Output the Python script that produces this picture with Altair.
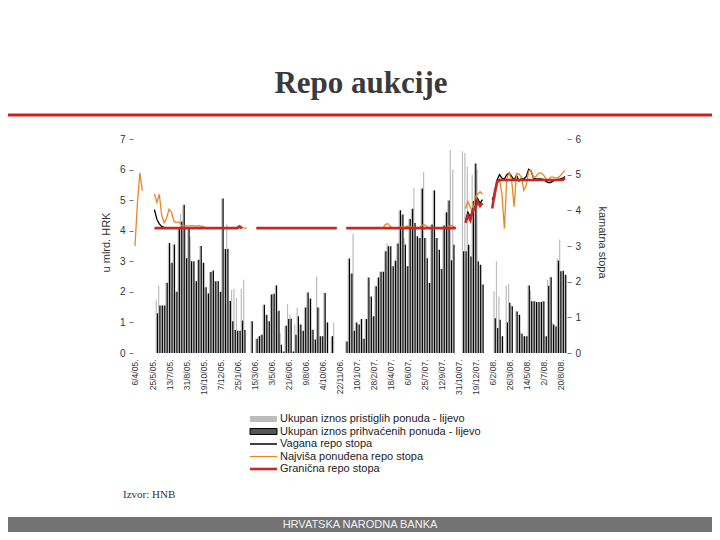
import altair as alt
import pandas as pd

# ---------------- data ----------------
title_text = "Repo aukcije"
source_text = "Izvor: HNB"
footer_text = "HRVATSKA NARODNA BANKA"
left_title = "u mlrd. HRK"
right_title = "kamatna stopa"

xlabels = ["6/4/05.", "25/5/05.", "13/7/05.", "31/8/05.", "19/10/05.", "7/12/05.",
           "25/1/06.", "15/3/06.", "3/5/06.", "21/6/06.", "9/8/06.", "4/10/06.",
           "22/11/06.", "10/1/07.", "28/2/07.", "18/4/07.", "6/6/07.", "25/7/07.",
           "12/9/07.", "31/10/07.", "19/12/07.", "6/2/08.", "26/3/08.", "14/5/08.",
           "2/7/08.", "20/8/08."]

legend_labels = ["Ukupan iznos pristiglih ponuda - lijevo",
                 "Ukupan iznos prihvaćenih ponuda - lijevo",
                 "Vagana repo stopa",
                 "Najviša ponuđena repo stopa",
                 "Granična repo stopa"]

# auction index (weekly auctions), labels every 7th auction
idx = list(range(178))
tick_pos = [7 * k for k in range(len(xlabels))]

# total bids received (bn HRK, left axis)
received = [
    None, None, None, None, None, None, None, None, None, 1.75,
    2.2, 1.55, 1.55, 2.3, 3.6, 2.95, 3.55, 2.0, 4.1, 4.55,
    4.85, 4.1, 4.1, 3.8, 3.0, 2.35, 3.05, 3.5, 2.95, 2.15,
    1.95, 2.65, 2.7, 2.35, 2.35, 2.0, 5.05, 3.4, 4.2, 1.7,
    2.07, 2.1, 1.8, 0.73, 2.1, 2.4, None, None, 1.04, None,
    0.47, 0.55, 0.6, 1.58, 1.25, 1.04, 1.91, 1.94, 2.21, 1.38,
    0.65, 0.05, 0.89, 1.6, 1.25, 0.05, 0.93, 1.49, 0.93, 0.73,
    1.49, 1.98, 1.78, 0.76, 0.44, 2.5, 1.49, 0.55, 1.96, 1.0,
    None, 0.55, 1.0, None, None, None, None, 0.38, 3.09, 2.6,
    3.9, 1.0, 0.93, 1.11, 0.47, 1.11, 2.47, 1.85, 1.2, 2.18,
    2.47, 2.66, 2.66, 3.33, 3.58, 3.49, 2.84, 3.02, 3.58, 4.67,
    4.53, 3.76, 2.84, 4.38, 4.72, 5.4, 3.82, 3.76, 5.38, 5.92,
    3.76, 2.29, 4.2, 5.32, 3.76, 3.38, 2.75, 4.17, 4.6, 4.99,
    6.65, 6.0, None, None, None, 6.6, 6.54, 6.1, 3.54, 5.83,
    6.2, 6.0, 2.89, 2.24, None, None, None, None, 2.02, 3.0,
    1.85, 0.55, None, 2.21, 2.26, 1.55, None, 1.38, 1.25, 0.68,
    0.55, 0.55, 2.22, 2.05, 1.69, 1.69, 1.67, 1.67, 1.69, 0.55,
    2.4, 2.5, 0.98, 0.93, 3.08, 3.71, 2.69, 2.56,
]

# total bids accepted (bn HRK, left axis)
accepted = [
    None, None, None, None, None, None, None, None, None, 1.3,
    1.55, 1.55, 1.55, 2.3, 3.6, 2.95, 3.55, 2.0, 4.1, 4.3,
    4.85, 3.1, 4.1, 3.0, 3.0, 2.35, 3.05, 3.5, 2.95, 2.15,
    1.95, 2.65, 2.7, 2.35, 2.35, 2.0, 5.05, 3.4, 3.4, 1.7,
    1.04, 0.75, 0.73, 0.73, 1.06, 0.75, None, None, 1.04, None,
    0.47, 0.55, 0.6, 1.58, 1.25, 1.04, 1.91, 1.94, 2.21, 1.38,
    0.27, 0.05, 0.89, 1.11, 1.12, 0.05, 0.6, 1.2, 0.93, 0.73,
    1.49, 1.98, 1.78, 0.76, 0.44, 1.49, 0.55, 0.55, 1.96, 1.0,
    None, 0.55, None, None, None, None, None, 0.38, 3.09, 2.6,
    0.73, 1.0, 0.93, 1.11, 0.47, 1.11, 2.47, 1.85, 1.2, 2.18,
    2.47, 2.66, 2.66, 3.33, 3.49, 3.49, 2.84, 3.02, 3.58, 4.67,
    4.53, 3.55, 2.84, 4.38, 4.72, 4.25, 3.82, 3.76, 5.38, 3.76,
    3.1, 2.29, 4.2, 5.32, 3.76, 3.38, 2.75, 4.17, 4.6, 4.99,
    3.03, 3.54, None, None, None, 3.33, 3.33, 3.54, 3.16, 4.96,
    6.2, 3.0, 2.89, 2.24, None, None, None, None, 1.14, 0.82,
    1.09, 0.55, None, 1.0, 1.64, 1.53, None, 1.36, 1.25, 0.63,
    0.55, 0.55, 2.21, 1.69, 1.69, 1.67, 1.67, 1.67, 1.69, 0.55,
    2.2, 2.48, 0.93, 0.87, 3.02, 2.67, 2.69, 2.56,
]

# marginal repo rate (%, right axis)
marginal = [
    None, None, None, None, None, None, None, None, 3.5, 3.5,
    3.5, 3.5, 3.5, 3.5, 3.5, 3.5, 3.5, 3.5, 3.5, 3.5,
    3.5, 3.5, 3.5, 3.5, 3.5, 3.5, 3.5, 3.5, 3.5, 3.5,
    3.5, 3.5, 3.5, 3.5, 3.5, 3.5, 3.5, 3.5, 3.5, 3.5,
    3.5, 3.5, 3.5, 3.55, 3.5, None, None, None, None, None,
    3.5, 3.5, 3.5, 3.5, 3.5, 3.5, 3.5, 3.5, 3.5, 3.5,
    3.5, 3.5, 3.5, 3.5, 3.5, 3.5, 3.5, 3.5, 3.5, 3.5,
    3.5, 3.5, 3.5, 3.5, 3.5, 3.5, 3.5, 3.5, 3.5, 3.5,
    3.5, 3.5, 3.5, 3.5, None, None, None, 3.5, 3.5, 3.5,
    3.5, 3.5, 3.5, 3.5, 3.5, 3.5, 3.5, 3.5, 3.5, 3.5,
    3.5, 3.5, 3.5, 3.5, 3.5, 3.5, 3.5, 3.5, 3.5, 3.5,
    3.5, 3.5, 3.5, 3.5, 3.5, 3.5, 3.5, 3.5, 3.5, 3.5,
    3.5, 3.5, 3.5, 3.5, 3.5, 3.5, 3.5, 3.5, 3.5, 3.5,
    3.5, 3.5, 3.5, None, None, None, 3.65, 3.85, 3.72, 4.0,
    4.05, 4.25, 4.12, 4.2, None, None, None, 4.05, 4.5, 4.8,
    4.85, 4.85, 4.85, 4.85, 4.85, 4.85, 4.85, 4.85, 4.85, 4.85,
    4.85, 4.85, 4.85, 4.85, 4.85, 4.85, 4.85, 4.85, 4.85, 4.85,
    4.85, 4.85, 4.85, 4.85, 4.85, 4.85, 4.85, 4.9,
]

# weighted repo rate (%, right axis)
weighted = [
    None, None, None, None, None, None, None, None, 4.02, 3.75,
    3.62, 3.55, 3.52, 3.51, 3.51, 3.5, 3.5, 3.5, 3.5, 3.5,
    3.5, 3.5, 3.5, 3.5, 3.5, 3.5, 3.5, 3.5, 3.5, 3.5,
    3.5, 3.5, 3.5, 3.5, 3.5, 3.5, 3.5, 3.5, 3.5, 3.5,
    3.5, 3.5, 3.5, 3.52, 3.5, None, None, None, None, None,
    3.5, 3.5, 3.5, 3.5, 3.5, 3.5, 3.5, 3.5, 3.5, 3.5,
    3.5, 3.5, 3.5, 3.5, 3.5, 3.5, 3.5, 3.5, 3.5, 3.5,
    3.5, 3.5, 3.5, 3.5, 3.5, 3.5, 3.5, 3.5, 3.5, 3.5,
    3.5, 3.5, 3.5, 3.5, None, None, None, 3.5, 3.5, 3.5,
    3.5, 3.5, 3.5, 3.5, 3.5, 3.5, 3.5, 3.5, 3.5, 3.5,
    3.5, 3.5, 3.5, 3.5, 3.5, 3.5, 3.5, 3.5, 3.5, 3.5,
    3.5, 3.5, 3.5, 3.5, 3.5, 3.5, 3.5, 3.5, 3.5, 3.5,
    3.5, 3.5, 3.5, 3.5, 3.5, 3.5, 3.5, 3.5, 3.5, 3.5,
    3.5, 3.5, 3.5, None, None, None, 3.72, 3.95, 3.8, 4.05,
    4.12, 4.33, 4.2, 4.3, None, None, None, 4.3, 4.45, 4.85,
    5.0, 4.9, 4.88, 5.0, 5.05, 4.95, 4.85, 4.98, 4.82, 4.9,
    4.88, 4.95, 5.15, 5.1, 4.9, 4.88, 4.88, 4.88, 4.87, 4.82,
    4.78, 4.78, 4.82, 4.86, 4.87, 4.88, 4.9, 4.95,
]

# highest offered repo rate (%, right axis)
highest = [
    3.0, 4.2, 5.05, 4.55, None, None, None, None, 4.47, 4.22,
    4.45, 3.85, 3.65, 3.78, 4.03, 3.95, 3.7, 3.65, 3.68, 3.58,
    3.56, 3.57, 3.56, 3.57, 3.57, 3.56, 3.57, 3.56, 3.55, 3.5,
    3.5, 3.5, 3.5, 3.5, 3.5, 3.5, 3.5, 3.5, 3.5, 3.5,
    3.5, 3.5, 3.5, 3.56, 3.52, 3.5, 3.5, None, None, None,
    3.5, 3.5, 3.5, 3.5, 3.5, 3.5, 3.5, 3.5, 3.5, 3.5,
    3.5, 3.5, 3.5, 3.5, 3.5, 3.5, 3.5, 3.5, 3.5, 3.5,
    3.5, 3.5, 3.5, 3.5, 3.5, 3.5, 3.5, 3.5, 3.5, 3.5,
    3.5, 3.5, 3.5, 3.5, None, None, None, 3.5, 3.5, 3.5,
    3.5, 3.5, 3.5, 3.5, 3.5, 3.5, 3.5, 3.5, 3.5, 3.5,
    3.5, 3.5, 3.5, 3.6, 3.63, 3.55, 3.5, 3.5, 3.5, 3.53,
    3.55, 3.52, 3.56, 3.54, 3.53, 3.5, 3.52, 3.5, 3.58, 3.6,
    3.56, 3.5, 3.5, 3.5, 3.5, 3.5, 3.5, 3.5, 3.5, 3.55,
    3.58, 3.55, 3.5, None, None, None, 4.05, 4.25, 4.08, 3.95,
    4.38, 4.45, 4.52, 4.45, None, None, None, None, 4.3, 4.7,
    4.89, 4.45, 3.49, 4.89, 5.05, 4.84, 4.1, 5.03, 5.02, 4.93,
    4.56, 4.7, 5.1, 5.12, 4.92, 4.95, 5.04, 5.05, 5.0, 4.9,
    4.84, 4.93, 4.93, 4.91, 4.92, 4.97, 5.05, 5.12,
]

# ---------------- chart ----------------
df = pd.DataFrame({"i": idx, "received": received, "accepted": accepted,
                   "marginal": marginal, "weighted": weighted, "highest": highest})

FONT = "Liberation Sans"
W, H = 434, 214
PAD_L, PAD_T = 125, 131

xscale = alt.Scale(domain=[-0.82, 177.77], nice=False, zero=False)
label_expr = "[" + ",".join("'%s'" % s for s in xlabels) + "][round(datum.value / 7)]"
xaxis = alt.Axis(values=tick_pos, labelExpr=label_expr, labelAngle=-90, labelAlign="right",
                 labelBaseline="middle", ticks=False, domain=False, grid=False, labelPadding=6,
                 labelFontSize=8.5, labelColor="#333333", labelFont=FONT, labelOverlap=False,
                 labelFlush=False, title=None)

yl_scale = alt.Scale(domain=[0, 7], nice=False, zero=True)
yr_scale = alt.Scale(domain=[0, 6], nice=False, zero=True)

left_axis = alt.Axis(orient="left", values=[0, 1, 2, 3, 4, 5, 6, 7], format="d", grid=False,
                     domain=False, tickSize=4, tickColor="#777777", labelPadding=4,
                     labelFont=FONT, labelFontSize=10, labelColor="#333333",
                     title=left_title, titleFont=FONT, titleFontSize=11, titleFontWeight="normal",
                     titleColor="#333333", titleAngle=-90, titleX=-27, titleY=103,
                     titleAlign="center", titleBaseline="middle")
right_axis = alt.Axis(orient="right", values=[0, 1, 2, 3, 4, 5, 6], format="d", grid=False,
                      domain=False, tickSize=4, tickColor="#777777", labelPadding=4,
                      labelFont=FONT, labelFontSize=10, labelColor="#333333",
                      title=right_title, titleFont=FONT, titleFontSize=11, titleFontWeight="normal",
                      titleColor="#333333", titleAngle=90, titleX=34, titleY=103,
                      titleAlign="center", titleBaseline="middle")

base = alt.Chart(df)

bars_rec = base.transform_filter("isValid(datum.received)").transform_calculate(
    x0="datum.i - 0.5", x1="datum.i").mark_rect(color="#bdbdbd").encode(
    x=alt.X("x0:Q", scale=xscale, axis=xaxis), x2="x1:Q",
    y=alt.Y("received:Q", scale=yl_scale, axis=left_axis), y2=alt.datum(0))

bars_acc = base.transform_filter("isValid(datum.accepted)").transform_calculate(
    x0="datum.i", x1="datum.i + 0.5").mark_rect(color="#000000").encode(
    x=alt.X("x0:Q", scale=xscale, axis=xaxis), x2="x1:Q",
    y=alt.Y("accepted:Q", scale=yl_scale, axis=None), y2=alt.datum(0))

line_w = base.mark_line(color="#000000", strokeWidth=1.3).encode(
    x=alt.X("i:Q", scale=xscale, axis=xaxis),
    y=alt.Y("weighted:Q", scale=yr_scale, axis=None))
line_h = base.mark_line(color="#ec8526", strokeWidth=1.3).encode(
    x=alt.X("i:Q", scale=xscale, axis=xaxis),
    y=alt.Y("highest:Q", scale=yr_scale, axis=None))
line_m = base.mark_line(color="#c62828", strokeWidth=2.6).encode(
    x=alt.X("i:Q", scale=xscale, axis=xaxis),
    y=alt.Y("marginal:Q", scale=yr_scale, axis=right_axis))

one = pd.DataFrame({"a": [0]})

# slide decorations (positions in px relative to the plot origin)
title_mark = alt.Chart(pd.DataFrame({"t": [title_text]})).mark_text(
    font="Liberation Serif", fontSize=31, fontWeight="bold", color="#3a3a3a",
    align="center", baseline="alphabetic").encode(
    x=alt.value(228), y=alt.value(-46), text="t:N")
title_rule = alt.Chart(one).mark_rule(color="#cc2222", strokeWidth=3).encode(
    x=alt.value(-125), x2=alt.value(579), y=alt.value(-24))
footer_bar = alt.Chart(one).mark_rect(color="#737373").encode(
    x=alt.value(-125), x2=alt.value(579), y=alt.value(378), y2=alt.value(393))
footer_lbl = alt.Chart(pd.DataFrame({"t": [footer_text]})).mark_text(
    font=FONT, fontSize=11, color="#f2f2f2", align="center", baseline="middle").encode(
    x=alt.value(227), y=alt.value(386), text="t:N")
source_lbl = alt.Chart(pd.DataFrame({"t": [source_text]})).mark_text(
    font="Liberation Serif", fontSize=11, color="#333333", align="left", baseline="middle").encode(
    x=alt.value(-10), y=alt.value(356), text="t:N")

# legend
LX0, LX1, LT = 117, 144, 147
rows = [280, 292.5, 305, 317.5, 330]
leg = []
leg.append(alt.Chart(one).mark_rect(color="#bdbdbd").encode(
    x=alt.value(LX0), x2=alt.value(LX1), y=alt.value(rows[0] - 3), y2=alt.value(rows[0] + 3)))
leg.append(alt.Chart(one).mark_rect(fill="#555555", stroke="#000000", strokeWidth=1).encode(
    x=alt.value(LX0), x2=alt.value(LX1), y=alt.value(rows[1] - 3), y2=alt.value(rows[1] + 3)))
leg.append(alt.Chart(one).mark_rule(color="#000000", strokeWidth=1.5).encode(
    x=alt.value(LX0), x2=alt.value(LX1), y=alt.value(rows[2])))
leg.append(alt.Chart(one).mark_rule(color="#ec8526", strokeWidth=1.2).encode(
    x=alt.value(LX0), x2=alt.value(LX1), y=alt.value(rows[3])))
leg.append(alt.Chart(one).mark_rule(color="#c62828", strokeWidth=2.6).encode(
    x=alt.value(LX0), x2=alt.value(LX1), y=alt.value(rows[4])))
for k, lab in enumerate(legend_labels):
    leg.append(alt.Chart(pd.DataFrame({"t": [lab]})).mark_text(
        font=FONT, fontSize=11, color="#222222", align="left", baseline="middle").encode(
        x=alt.value(LT), y=alt.value(rows[k]), text="t:N"))

chart = alt.layer(
    bars_rec, bars_acc, line_w, line_h, line_m,
    title_mark, title_rule, footer_bar, footer_lbl, source_lbl, *leg
).resolve_scale(y="independent").properties(
    width=W, height=H,
    autosize=alt.AutoSizeParams(type="none"),
    padding={"left": PAD_L, "top": PAD_T, "right": 704 - PAD_L - W, "bottom": 524 - PAD_T - H},
    background="white",
).configure_view(stroke=None)

chart.save("out.html", embed_options={"renderer": "svg", "actions": False})
